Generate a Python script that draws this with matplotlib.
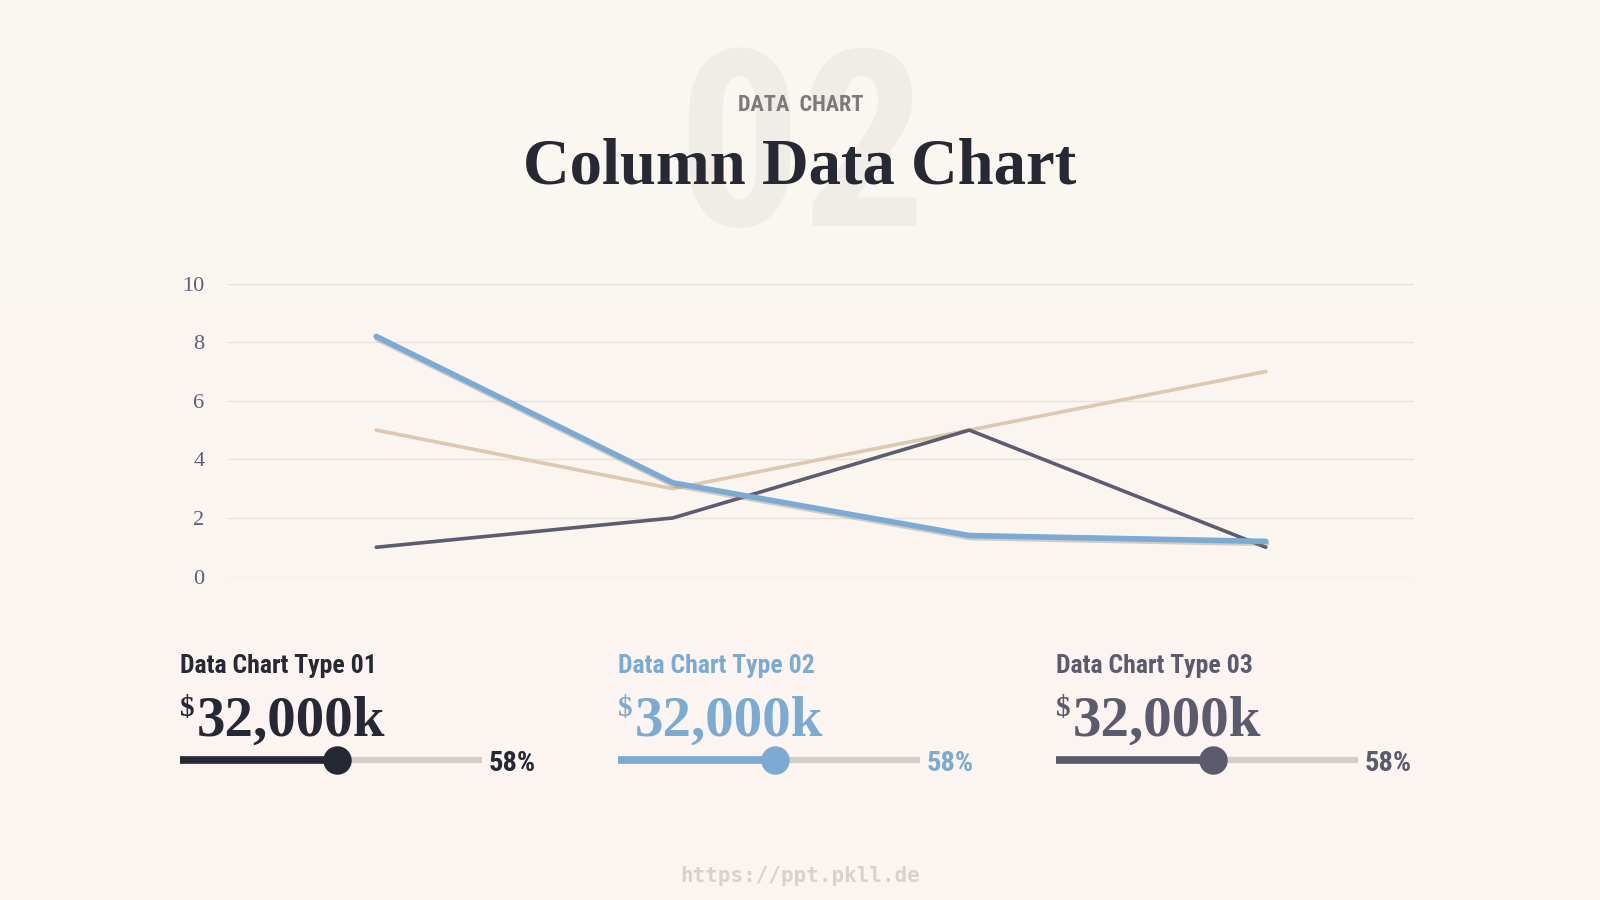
import numpy as np
import matplotlib
matplotlib.use("Agg")
import matplotlib.pyplot as plt
import matplotlib.patheffects as pe
from matplotlib import font_manager

# data
categories = ["Q1", "Q2", "Q3", "Q4"]
series_blue = [8.2, 3.2, 1.4, 1.2]
series_beige = [5, 3, 5, 7]
series_dark = [1, 2, 5, 1]
y_ticks = [0, 2, 4, 6, 8, 10]

card_titles = ["Data Chart Type 01", "Data Chart Type 02", "Data Chart Type 03"]
card_values = ["32,000k", "32,000k", "32,000k"]
card_pct = ["58%", "58%", "58%"]
card_fill = [0.52, 0.52, 0.52]
card_colors = ["#262833", "#7BAAD2", "#5C5B6E"]

BG_TOP = "#FAF7F1"
BG_BOT = "#FCF4F0"
DARK = "#262833"

names = {f.name for f in font_manager.fontManager.ttflist}
cond = None
for n in ["Roboto Condensed", "DejaVu Sans Condensed", "Liberation Sans Narrow"]:
    if n in names:
        cond = n
        break
cond_kw = dict(family=cond) if cond else dict(family="DejaVu Sans", stretch="condensed")
serif = "Liberation Serif" if "Liberation Serif" in names else "DejaVu Serif"

fig = plt.figure(figsize=(16, 9), dpi=100)

# background gradient
bg = fig.add_axes([0, 0, 1, 1], zorder=0)
grad = np.linspace(0, 1, 256).reshape(-1, 1)
cmap = matplotlib.colors.LinearSegmentedColormap.from_list("bg", [BG_TOP, BG_BOT])
bg.imshow(grad, aspect="auto", cmap=cmap, extent=[0, 1600, 900, 0])
bg.set_xlim(0, 1600)
bg.set_ylim(900, 0)
bg.axis("off")

# watermark + header
bg.text(801, 226, "02", fontsize=178, fontweight="bold", color="#F0ECE6",
        ha="center", va="baseline", **cond_kw)
bg.text(801, 111, "DATA  CHART", fontsize=16, fontweight="bold",
        color="#7C7A7A", ha="center", va="baseline", **cond_kw)
bg.text(800, 184, "Column Data Chart", fontsize=46.5, fontweight="bold",
        color=DARK, ha="center", va="baseline", family=serif)

# line chart
ax = fig.add_axes([0.1425, 0.3594, 0.7413, 0.3254], zorder=2)
ax.patch.set_alpha(0)
x = np.arange(len(categories))
ax.plot(x, series_beige, color="#DCC9AF", lw=2.6, solid_capstyle="round", zorder=3)
ax.plot(x, series_dark, color="#5E5D70", lw=2.6, solid_capstyle="round", zorder=4)
ax.plot(x, series_blue, color="#7BAAD2", lw=4, solid_capstyle="round", zorder=5,
        path_effects=[pe.SimpleLineShadow(offset=(0.5, -1.5), shadow_color="#8a7f70", alpha=0.35),
                      pe.Normal()])
ax.set_xlim(-0.5, len(categories) - 0.5)
ax.set_ylim(0, 10)
ax.set_yticks(y_ticks)
ax.set_yticklabels([str(t) for t in y_ticks], family=serif, fontsize=16, color="#615C78")
ax.set_xticks([])
ax.grid(axis="y", color="#E6E1DA", lw=1)
ax.set_axisbelow(True)
ax.tick_params(axis="y", length=0, pad=17)
for s in ax.spines.values():
    s.set_visible(False)

# cards
ov = fig.add_axes([0, 0, 1, 1], zorder=3)
ov.set_xlim(0, 1600)
ov.set_ylim(900, 0)
ov.axis("off")
x0s = [180, 618, 1056]
track_w = 302
for x0, title, val, pct, fill, c in zip(x0s, card_titles, card_values, card_pct, card_fill, card_colors):
    ov.text(x0, 673, title, fontsize=18.5, fontweight="bold", color=c, va="baseline", ha="left", **cond_kw)
    ov.text(x0, 695, "$", fontsize=21, fontweight="bold", color=c, va="top", ha="left", family=serif)
    ov.text(x0 + 17, 736, val, fontsize=41, fontweight="bold", color=c, va="baseline", ha="left", family=serif)
    ov.plot([x0, x0 + track_w], [760, 760], color="#D3CEC8", lw=4.5, solid_capstyle="butt", zorder=1)
    kx = x0 + fill * track_w
    ov.plot([x0, kx], [760, 760], color=c, lw=5.5, solid_capstyle="butt", zorder=2)
    ov.scatter([kx], [760], s=420, color=c, zorder=3, linewidths=0)
    ov.text(x0 + track_w + 7, 771, pct, fontsize=20.5, fontweight="bold", color=c, va="baseline", ha="left", **cond_kw)

ov.text(800, 876, "https://ppt.pkll.de", fontsize=15, fontweight="bold", color="#D8D1CE",
        ha="center", va="center", family="DejaVu Sans Mono")

fig.savefig("out.png", dpi=100)
